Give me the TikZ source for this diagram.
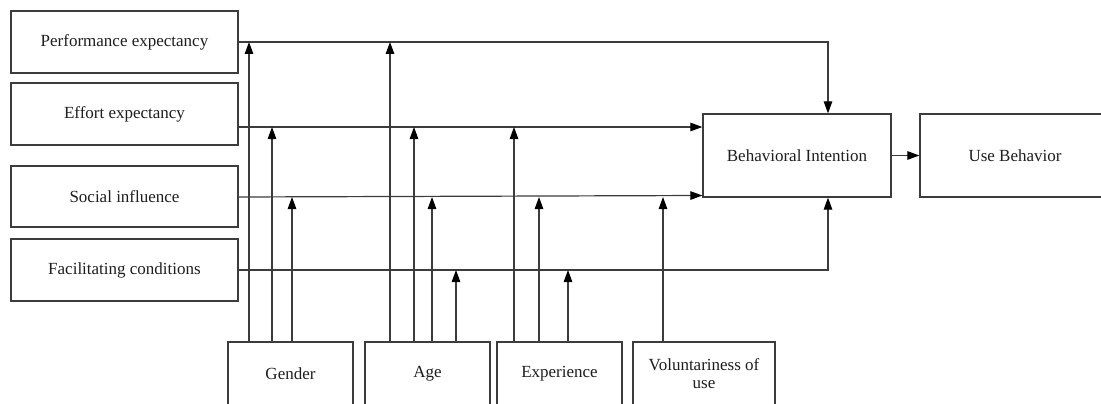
\documentclass[tikz,border=0pt]{standalone}
\usepackage{fontspec}
\setmainfont{Liberation Serif}
\usetikzlibrary{arrows.meta}
\definecolor{edge}{HTML}{3C3C3C}
\definecolor{ink}{HTML}{1E1E1E}
\tikzset{
  box/.style={draw=edge, line width=1.3pt, fill=white, inner sep=2pt,
    text=ink, font=\fontsize{17}{19.5}\selectfont, align=center},
  arr/.style={draw=edge, line width=1.2pt,
    -{Triangle[length=12pt,width=8.5pt,color=black]}},
}
\begin{document}
\begin{tikzpicture}[x=1pt,y=-1pt]
\useasboundingbox (0,0) rectangle (1101,404);
\clip (0,0) rectangle (1101,404);
\fill[white] (0,0) rectangle (1101,404);

% constructs on the left
\node[box, minimum width=227pt, minimum height=62pt] (pe) at (124.5,42) {Performance expectancy};
\node[box, minimum width=227pt, minimum height=62pt] (ee) at (124.5,114) {Effort expectancy};
\node[box, minimum width=227pt, minimum height=61pt] (si) at (124.5,196.5) {Social influence};
\node[box, minimum width=227pt, minimum height=62pt] (fc) at (124.5,270) {Facilitating conditions};

% outcome boxes
\node[box, minimum width=188pt, minimum height=83pt] (bi) at (797,155.5) {Behavioral Intention};
\node[box, minimum width=190pt, minimum height=83pt] (ub) at (1015,155.5) {Use Behavior};

% moderators along the bottom
\node[box, minimum width=125pt, minimum height=63pt] (g) at (290.5,373.5) {Gender};
\node[box, minimum width=125pt, minimum height=63pt] (a) at (427.5,373.5) {Age};
\node[box, minimum width=125pt, minimum height=63pt] (e) at (559.5,373.5) {Experience};
\node[box, minimum width=142pt, minimum height=63pt] (v) at (704,373.5) {Voluntariness of\\[-1pt]use};

% points where the construct lines leave their boxes
\coordinate (Lpe) at (pe.east);
\coordinate (Lee) at ([yshift=-13pt]ee.east);
\coordinate (Lsi) at ([yshift=-0.5pt]si.east);
\coordinate (Lfc) at (fc.east);
\coordinate (kx) at (828,0);

% construct paths into Behavioral Intention
\draw[arr] (Lpe) -| (kx |- bi.north);
\draw[arr] (Lee) -- (Lee -| bi.west);
\draw[arr] (Lsi) -- ([yshift=1.5pt]Lsi -| bi.west);
\draw[arr] (Lfc) -| (kx |- bi.south);
\draw[arr] (bi.east) -- (ub.west);

% moderating arrows rising from the bottom boxes
\foreach \x/\src/\dst in {249/g/Lpe, 272/g/Lee, 292/g/Lsi,
                          390/a/Lpe, 414/a/Lee, 432/a/Lsi, 456/a/Lfc,
                          514/e/Lee, 539/e/Lsi, 568/e/Lfc,
                          663/v/Lsi}
  \draw[arr] (\src.north -| \x,0) -- (\x,0 |- \dst);
\end{tikzpicture}
\end{document}
